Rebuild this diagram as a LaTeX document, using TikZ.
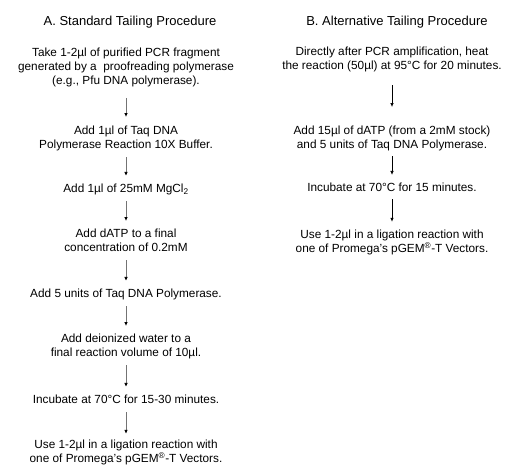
\documentclass[tikz,border=0pt]{standalone}
\usepackage{fontspec}
\setmainfont{Liberation Sans}
\usetikzlibrary{arrows.meta}

\tikzset{
  stepnode/.style={inner sep=0pt,font=\fontsize{11.8}{13.8}\selectfont},
  headnode/.style={inner sep=0pt,font=\fontsize{13}{15}\selectfont},
  stdarrow/.style={draw=black!55,line width=1pt,-{Latex[length=4pt,width=3.6pt,black]},shorten <=4pt,shorten >=7pt},
  altarrow/.style={draw=black,line width=0.7pt,-{Latex[length=4pt,width=3.6pt]},shorten <=3pt,shorten >=7pt}
}

\begin{document}
\begin{tikzpicture}[x=1pt,y=-1pt]
\useasboundingbox (0,0) rectangle (506,466);
\begin{scope}
% A. standard procedure
\node (tA) at (130,22) [headnode] {A. Standard Tailing Procedure};
\node (a1) at (126,68) [stepnode] {\begin{tabular}{c}Take 1-2µl of purified PCR fragment\\ generated by a \ proofreading polymerase\\ (e.g., Pfu DNA polymerase).\end{tabular}};
\node (a2) at (126,139) [stepnode] {\begin{tabular}{c}Add 1µl of Taq DNA\\ Polymerase Reaction 10X Buffer.\end{tabular}};
\node (a3) at (126,190) [stepnode] {\begin{tabular}{c}Add 1µl of 25mM MgCl\textsubscript{2}\end{tabular}};
\node (a4) at (126,242) [stepnode] {\begin{tabular}{c}Add dATP to a final\\ concentration of 0.2mM\end{tabular}};
\node (a5) at (126,295) [stepnode] {\begin{tabular}{c}Add 5 units of Taq DNA Polymerase.\end{tabular}};
\node (a6) at (126,347) [stepnode] {\begin{tabular}{c}Add deionized water to a\\ final reaction volume of 10µl.\end{tabular}};
\node (a7) at (126,401) [stepnode] {\begin{tabular}{c}Incubate at 70°C for 15-30 minutes.\end{tabular}};
\node (a8) at (126,453) [stepnode] {\begin{tabular}{c}Use 1-2µl in a ligation reaction with\\ one of Promega's pGEM\textsuperscript{®}-T Vectors.\end{tabular}};
\draw[stdarrow,shorten <=9pt,shorten >=8pt] (a1) -- (a2);
\draw[stdarrow] (a2) -- (a3);
\draw[stdarrow] (a3) -- (a4);
\draw[stdarrow] (a4) -- (a5);
\draw[stdarrow] (a5) -- (a6);
\draw[stdarrow] (a6) -- (a7);
\draw[stdarrow,shorten >=5pt] (a7) -- (a8);
% B. alternative procedure
\node (tB) at (397,22) [headnode] {B. Alternative Tailing Procedure};
\node (b1) at (392,60) [stepnode] {\begin{tabular}{c}Directly after PCR amplification, heat\\ the reaction (50µl) at 95°C for 20 minutes.\end{tabular}};
\node (b2) at (392,139) [stepnode] {\begin{tabular}{c}Add 15µl of dATP (from a 2mM stock)\\ and 5 units of Taq DNA Polymerase.\end{tabular}};
\node (b3) at (392,189) [stepnode] {\begin{tabular}{c}Incubate at 70°C for 15 minutes.\end{tabular}};
\node (b4) at (392,243) [stepnode] {\begin{tabular}{c}Use 1-2µl in a ligation reaction with\\ one of Promega's pGEM\textsuperscript{®}-T Vectors.\end{tabular}};
\draw[altarrow,shorten <=11pt,shorten >=18pt] (b1) -- (b2);
\draw[altarrow] (b2) -- (b3);
\draw[altarrow] (b3) -- (b4);
\end{scope}
\end{tikzpicture}
\end{document}
